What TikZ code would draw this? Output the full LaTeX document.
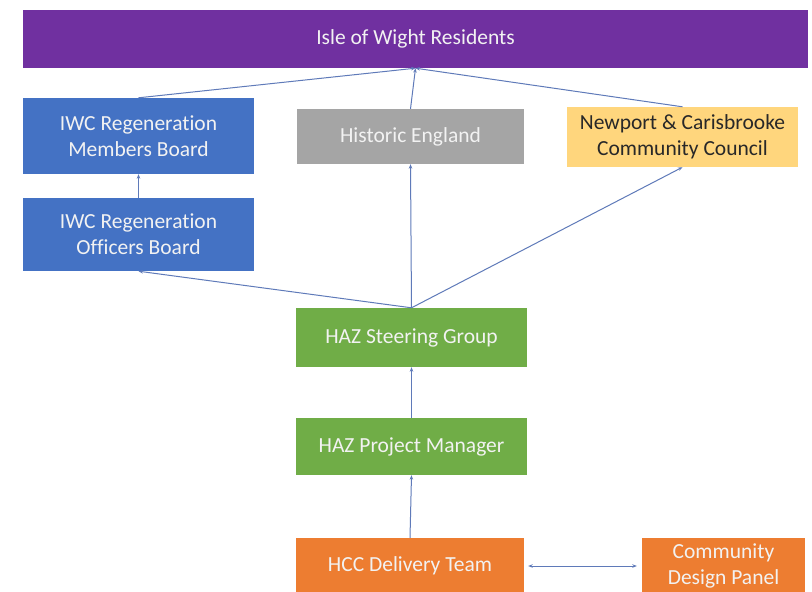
\documentclass[tikz,border=0pt]{standalone}
\usepackage{fontspec}
\setmainfont{Carlito}[RawFeature={-liga}]
\usetikzlibrary{arrows.meta}
\definecolor{cpurple}{RGB}{112,48,160}
\definecolor{cblue}{RGB}{68,114,196}
\definecolor{cgrey}{RGB}{165,165,165}
\definecolor{cgold}{RGB}{255,214,125}
\definecolor{cgreen}{RGB}{112,173,71}
\definecolor{corange}{RGB}{237,125,49}
\definecolor{cline}{RGB}{95,122,185}
\definecolor{ctext}{RGB}{242,242,242}
\definecolor{cdark}{RGB}{40,40,40}
\tikzset{
  box/.style={rectangle, inner sep=0pt, align=center, text=ctext,
    font=\fontsize{21.5}{26}\selectfont},
  conn/.style={draw=cline, line width=1pt, -{Stealth[length=4.5pt,width=3.5pt]}},
  conn2/.style={draw=cline, line width=1pt, {Stealth[length=4.5pt,width=3.5pt]}-{Stealth[length=4.5pt,width=3.5pt]}}
}
\begin{document}
\begin{tikzpicture}[x=1pt,y=-1pt]
\useasboundingbox (0,0) rectangle (812,592);
\clip (0,0) rectangle (812,592);
\fill[white] (0,0) rectangle (812,592);
\node[box, fill=cpurple, minimum width=785, minimum height=58] (iow) at (415.5,39) {Isle of Wight Residents};
\node[box, fill=cblue, minimum width=231, minimum height=76] (mem) at (138.5,136) {IWC Regeneration\\Members Board};
\node[box, fill=cblue, minimum width=231, minimum height=73] (off) at (138.5,234.5) {IWC Regeneration\\Officers Board};
\node[box, fill=cgrey, minimum width=227, minimum height=55] (he) at (410.5,136.5) {Historic England};
\node[box, fill=cgold, text=cdark, minimum width=231, minimum height=60] (nc) at (682.5,137) {Newport \& Carisbrooke\\Community Council};
\node[box, fill=cgreen, minimum width=231, minimum height=59] (sg) at (411.5,337.5) {HAZ Steering Group};
\node[box, fill=cgreen, minimum width=231, minimum height=57] (pm) at (411.5,446.5) {HAZ Project Manager};
\node[box, fill=corange, minimum width=228, minimum height=56] (hcc) at (410,566) {HCC Delivery Team};
\node[box, fill=corange, minimum width=163, minimum height=56] (cdp) at (723.5,566) {Community\\Design Panel};
\draw[conn] (mem.north) -- (iow.south);
\draw[conn] (he.north) -- (iow.south);
\draw[conn] (nc.north) -- (iow.south);
\draw[conn] (off.north) -- (mem.south);
\draw[conn] (sg.north) -- (off.south);
\draw[conn] (sg.north) -- (he.south);
\draw[conn] (sg.north) -- (nc.south);
\draw[conn] (pm.north) -- (sg.south);
\draw[conn] (hcc.north) -- (pm.south);
\draw[conn2, shorten <=4pt, shorten >=5pt] (hcc.east) -- (cdp.west);
\end{tikzpicture}
\end{document}
